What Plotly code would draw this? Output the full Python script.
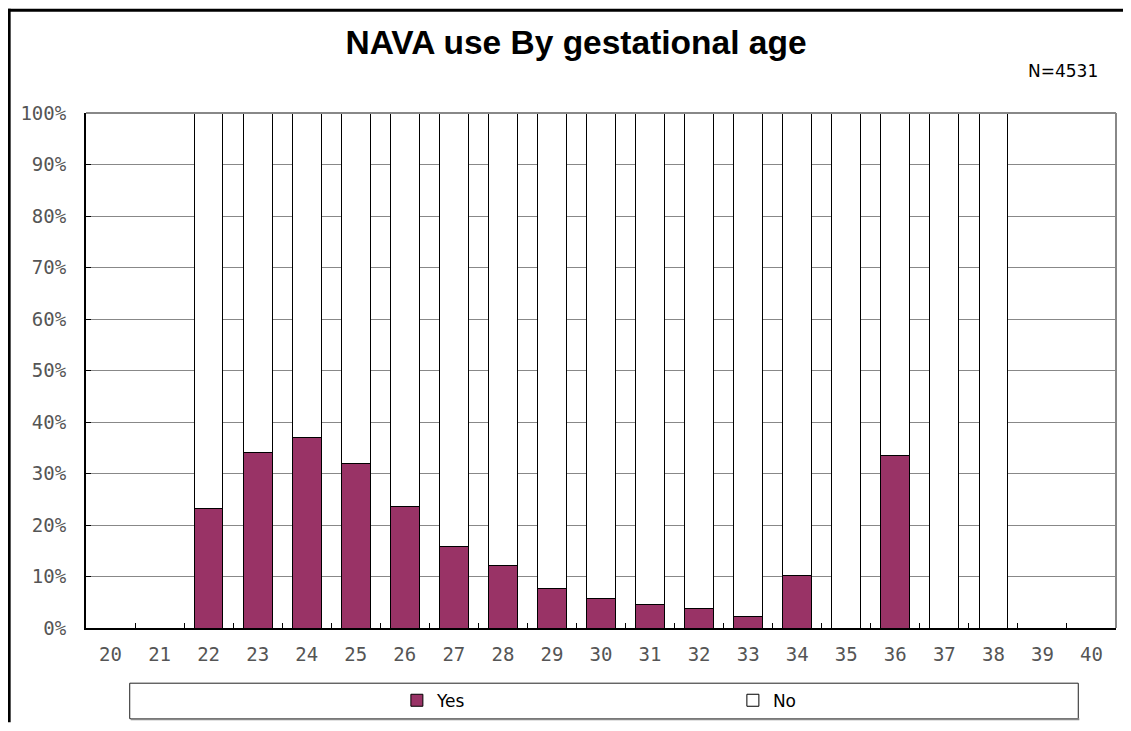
import plotly.graph_objects as go

categories = [str(w) for w in range(20, 41)]
yes_pct = [None, None, 23.3, 34.0, 36.9, 32.0, 23.6, 15.8, 12.1, 7.6, 5.7, 4.5, 3.8, 2.2,
           10.1, 0.0, 33.4, 0.0, 0.0, None, None]
no_pct = [None if v is None else round(100 - v, 1) for v in yes_pct]
y_ticks = list(range(0, 101, 10))
y_ticktext = [f"{t}%" for t in y_ticks]

# page body has an 8px margin; work in screen coordinates and shift
O = 8
W, H = 1131 - O, 731 - 2 * O
L, R, T, B = 86.3 - O, 1115.7 - O, 113.3 - O, 628.3 - O
PW, PH = R - L, B - T


def px(x):
    return (x - O - L) / PW


def py(y):
    return (B - (y - O)) / PH


fig = go.Figure()
fig.add_trace(go.Bar(x=categories, y=yes_pct, name="Yes",
                     marker=dict(color="#993366", line=dict(color="#000000", width=1))))
fig.add_trace(go.Bar(x=categories, y=no_pct, name="No",
                     marker=dict(color="#FFFFFF", line=dict(color="#000000", width=1))))

shapes = [
    # outer frame (top and left), kept inside the figure area
    dict(type="line", xref="paper", yref="paper", x0=px(O + 0.5), x1=px(O + W - 0.5),
         y0=py(10.5), y1=py(10.5), line=dict(color="#000000", width=3)),
    dict(type="line", xref="paper", yref="paper", x0=px(9.5), x1=px(9.5), y0=py(9), y1=py(O + H - 0.5),
         line=dict(color="#000000", width=3)),
    # plot area top/right border
    dict(type="line", xref="paper", yref="paper", x0=0, x1=1, y0=1, y1=1,
         line=dict(color="#888888", width=2)),
    dict(type="line", xref="paper", yref="paper", x0=1, x1=1, y0=0, y1=1,
         line=dict(color="#888888", width=2)),
    # legend box
    dict(type="rect", xref="paper", yref="paper", x0=px(130), x1=px(1078), y0=py(683.5), y1=py(719),
         line=dict(color="#202020", width=1), fillcolor="rgba(0,0,0,0)"),
    dict(type="line", xref="paper", yref="paper", x0=px(131), x1=px(1079), y0=py(719.5), y1=py(719.5),
         line=dict(color="#888888", width=2)),
]

fig.update_layout(
    width=W, height=H,
    margin=dict(l=L, r=W - R, t=T, b=H - B, autoexpand=False),
    paper_bgcolor="white", plot_bgcolor="white",
    barmode="stack", bargap=0.415,
    title=dict(text="<b>NAVA use By gestational age</b>", x=(576 - O) / W, xref="container",
               xanchor="center", y=1 - (42 - O) / H, yref="container", yanchor="middle",
               font=dict(family="Liberation Sans, Arial, sans-serif", size=33.5, color="#000000")),
    showlegend=True,
    legend=dict(orientation="h", x=px(397), xanchor="left", y=py(701), yanchor="middle",
                bgcolor="rgba(0,0,0,0)", borderwidth=0, traceorder="normal",
                entrywidth=291, entrywidthmode="pixels", itemwidth=30,
                font=dict(family="DejaVu Sans, sans-serif", size=17, color="#000000")),
    shapes=shapes,
    annotations=[dict(text="N=4531", xref="paper", yref="paper", x=px(1100), y=py(71),
                      xanchor="right", yanchor="middle", showarrow=False,
                      font=dict(family="DejaVu Sans, sans-serif", size=17, color="#000000"))],
)

fig.update_xaxes(
    type="category", range=[-0.5, 20.5], showgrid=False, automargin=False,
    showline=True, linecolor="#000000", linewidth=2,
    ticks="inside", tickson="boundaries", ticklen=5, tickcolor="#000000", tickwidth=1,
    tickfont=dict(family="DejaVu Sans Mono, monospace", size=19, color="#555555"),
    ticklabelstandoff=8,
)
fig.update_yaxes(
    range=[0, 100], tickvals=y_ticks, ticktext=y_ticktext, automargin=False,
    showgrid=True, gridcolor="#888888", gridwidth=1,
    showline=True, linecolor="#000000", linewidth=2,
    ticks="inside", ticklen=5, tickcolor="#000000", tickwidth=1,
    tickfont=dict(family="DejaVu Sans Mono, monospace", size=19, color="#555555"),
    ticklabelstandoff=14, zeroline=False,
)

fig.write_html("out.html")
